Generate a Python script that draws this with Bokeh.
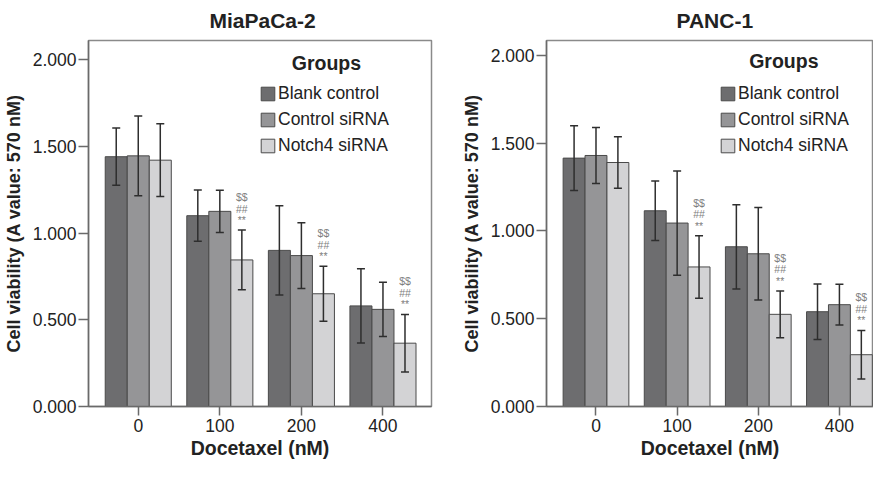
from bokeh.plotting import figure
from bokeh.layouts import row
from bokeh.models import (ColumnDataSource, Whisker, TeeHead, Legend, LegendItem, Label, Title,
                          FixedTicker, NumeralTickFormatter, Range1d)
from bokeh.core.properties import value
from bokeh.embed import file_html
from bokeh.resources import INLINE

# ---------------- data ----------------
doses = ["0", "100", "200", "400"]
groups = ["Blank control", "Control siRNA", "Notch4 siRNA"]
colors = ["#6d6d6f", "#959597", "#d3d3d5"]

mia_blank = [1.44, 1.10, 0.90, 0.58]
mia_ctrl = [1.445, 1.125, 0.87, 0.56]
mia_notch = [1.42, 0.845, 0.65, 0.365]
mia_blank_sd = [0.165, 0.148, 0.257, 0.214]
mia_ctrl_sd = [0.23, 0.122, 0.19, 0.157]
mia_notch_sd = [0.21, 0.172, 0.158, 0.166]

panc_blank = [1.415, 1.115, 0.91, 0.54]
panc_ctrl = [1.43, 1.045, 0.87, 0.58]
panc_notch = [1.39, 0.795, 0.525, 0.295]
panc_blank_sd = [0.185, 0.17, 0.24, 0.158]
panc_ctrl_sd = [0.16, 0.297, 0.263, 0.116]
panc_notch_sd = [0.147, 0.178, 0.133, 0.138]

# significance marks shown above the Notch4 siRNA bars
sig_dose = ["100", "200", "400"]
sig_marks = ["**", "##", "$$"]

FONT = "Liberation Sans"
BAR_W = 0.27


def make_panel(title, means, sds, width, bl, br, bt, bb, x_end, y_end,
               legend_xy, groups_xy, title_offset):
    p = figure(width=width, height=461, output_backend="svg", toolbar_location=None,
               x_range=Range1d(-0.61, x_end), y_range=Range1d(0, y_end),
               min_border_left=bl, min_border_right=br, min_border_top=bt,
               min_border_bottom=bb, background_fill_color="white",
               border_fill_color="white")
    p.title = Title(text=title, align="left", offset=title_offset, standoff=15,
                    vertical_align="middle",
                    text_font=FONT, text_font_size="21px", text_font_style="bold",
                    text_color="#222222")
    p.grid.visible = False
    p.outline_line_color = "#8a8a8a"
    p.outline_line_width = 1.5

    xs = list(range(len(doses)))
    items = []
    for gi, (m, s) in enumerate(zip(means, sds)):
        off = (gi - 1) * BAR_W
        xpos = [x + off for x in xs]
        src = ColumnDataSource(dict(x=xpos, top=m,
                                    upper=[a + b for a, b in zip(m, s)],
                                    lower=[a - b for a, b in zip(m, s)]))
        r = p.vbar(x="x", top="top", width=BAR_W, bottom=0, source=src,
                   fill_color=colors[gi], line_color="#4a4a4a", line_width=1)
        items.append(LegendItem(label=groups[gi], renderers=[r]))
        w = Whisker(base="x", upper="upper", lower="lower", source=src,
                    line_color="#2e2e2e", line_width=1.5, level="overlay",
                    upper_head=TeeHead(size=8, line_color="#2e2e2e", line_width=1.5),
                    lower_head=TeeHead(size=8, line_color="#2e2e2e", line_width=1.5))
        p.add_layout(w)
        if gi == 2:
            tx, ty, tt, to = [], [], [], []
            for d in sig_dose:
                i = doses.index(d)
                for k, mark in enumerate(sig_marks):
                    tx.append(xpos[i])
                    ty.append(m[i] + s[i])
                    tt.append(mark)
                    to.append(-10 - 11.5 * k)
            p.text(x=tx, y=ty, text=tt, y_offset=to, text_align="center",
                   text_baseline="middle", text_font=value(FONT),
                   text_font_size=value("10.5px"), text_color="#808080")

    legend = Legend(items=items, location=legend_xy, glyph_width=17, glyph_height=17,
                    label_height=20, spacing=5, padding=0, margin=0,
                    label_standoff=2, border_line_alpha=0, background_fill_alpha=0,
                    label_text_font=FONT, label_text_font_size="17.5px",
                    label_text_color="#222222")
    p.add_layout(legend)
    p.add_layout(Label(x=groups_xy[0], y=groups_xy[1], text="Groups",
                       text_align="center", text_baseline="middle",
                       text_font=FONT, text_font_size="19.5px", text_font_style="bold",
                       text_color="#222222"))

    p.xaxis.ticker = FixedTicker(ticks=xs)
    p.xaxis.major_label_overrides = {i: d for i, d in enumerate(doses)}
    p.yaxis.ticker = FixedTicker(ticks=[0, 0.5, 1.0, 1.5, 2.0])
    p.yaxis.formatter = NumeralTickFormatter(format="0.000")
    p.xaxis.axis_label = "Docetaxel (nM)"
    p.yaxis.axis_label = "Cell viability (A value: 570 nM)"
    for ax in (p.xaxis, p.yaxis):
        ax.axis_line_color = "#6a6a6a"
        ax.axis_line_width = 1.5
        ax.major_tick_line_color = "#6a6a6a"
        ax.major_tick_line_width = 1.5
        ax.major_tick_in = 0
        ax.minor_tick_line_color = None
        ax.major_label_text_font = FONT
        ax.major_label_text_font_size = "17.5px"
        ax.major_label_text_color = "#222222"
        ax.axis_label_text_font = FONT
        ax.axis_label_text_font_style = "bold"
        ax.axis_label_text_color = "#222222"
    p.yaxis.major_tick_out = 10
    p.xaxis.major_tick_out = 9
    p.yaxis.axis_label_text_font_size = "18px"
    p.xaxis.axis_label_text_font_size = "19.5px"
    p.yaxis.major_label_standoff = 2
    p.yaxis.axis_label_standoff = 6
    p.xaxis.major_label_standoff = 3
    p.xaxis.axis_label_standoff = 2
    return p


p1 = make_panel("MiaPaCa-2", [mia_blank, mia_ctrl, mia_notch],
                [mia_blank_sd, mia_ctrl_sd, mia_notch_sd],
                width=440, bl=88, br=9, bt=39, bb=55, x_end=3.595, y_end=2.11,
                legend_xy=(171, 250), groups_xy=(2.307, 1.983), title_offset=121)
p2 = make_panel("PANC-1", [panc_blank, panc_ctrl, panc_notch],
                [panc_blank_sd, panc_ctrl_sd, panc_notch_sd],
                width=433, bl=106, br=0, bt=39, bb=55, x_end=3.42, y_end=2.085,
                legend_xy=(173, 250), groups_xy=(2.315, 1.966), title_offset=130)

layout = row(p1, p2)
open("out.html", "w").write(file_html(layout, INLINE))
